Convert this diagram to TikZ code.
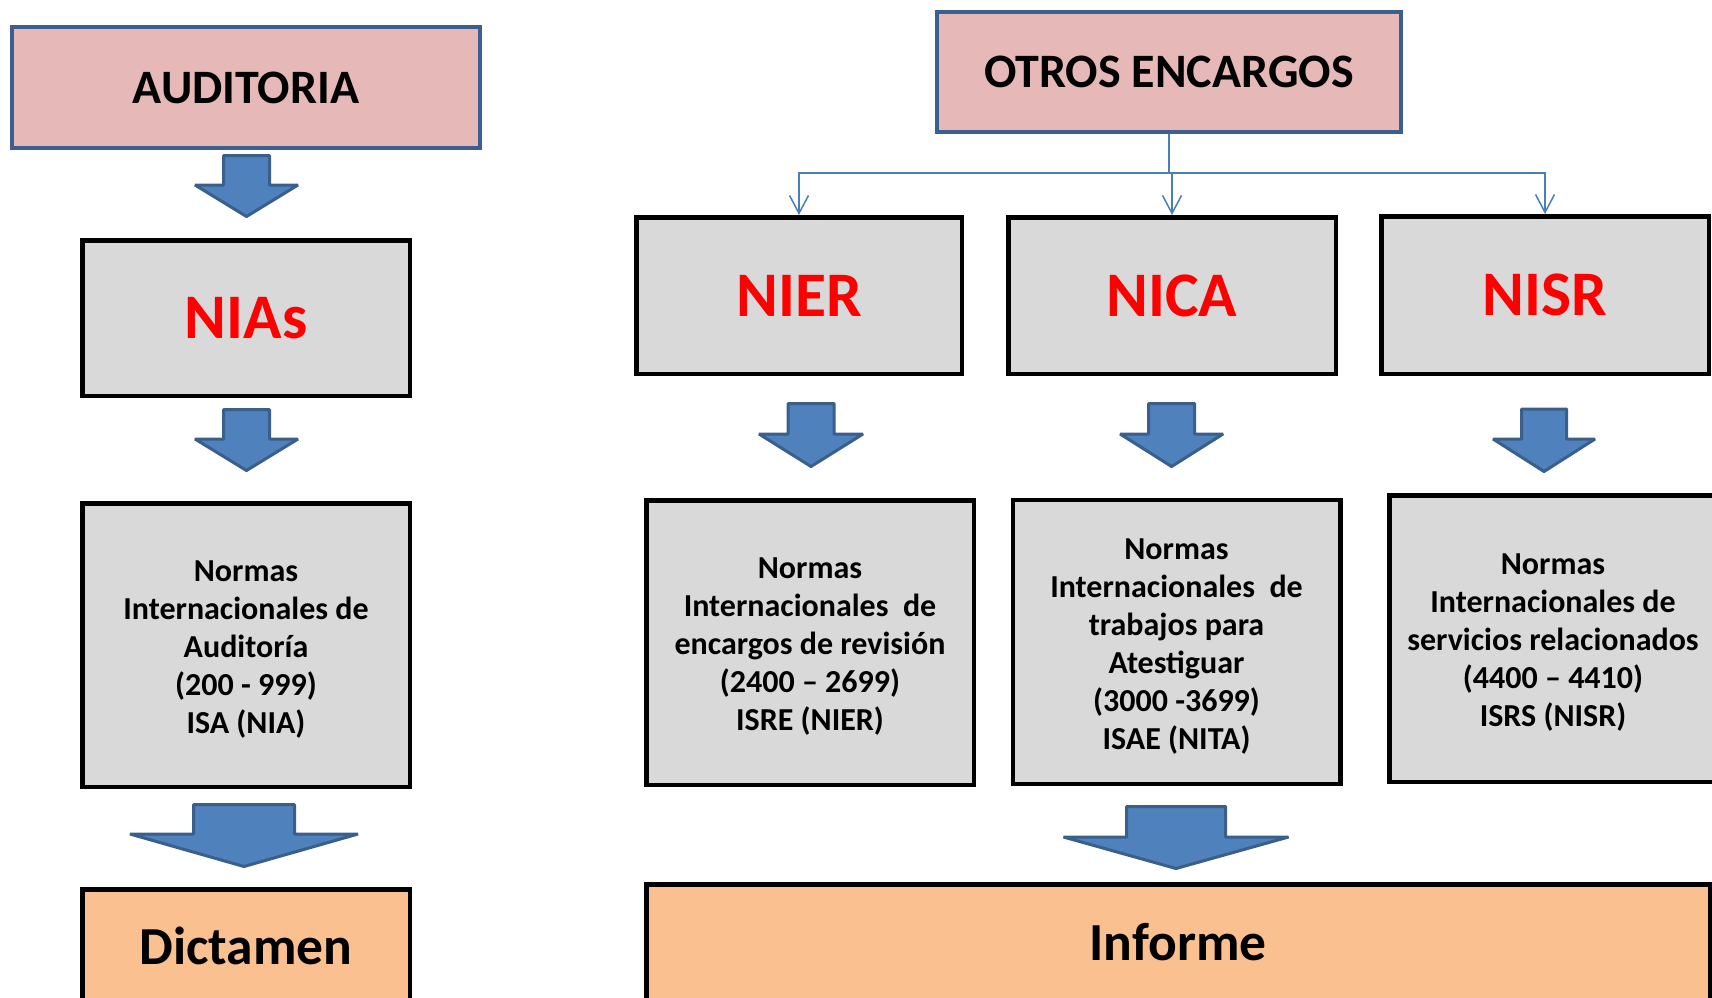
\documentclass[tikz,border=0pt]{standalone}
\usepackage{fontspec}
\setmainfont{Carlito}
\usetikzlibrary{arrows.meta}
\definecolor{pinkfill}{HTML}{E6B9B8}
\definecolor{grayfill}{HTML}{D9D9D9}
\definecolor{orangefill}{HTML}{FAC090}
\definecolor{blueborder}{HTML}{3B6090}
\definecolor{arrowfill}{HTML}{4F81BD}
\definecolor{arrowline}{HTML}{3A5F8B}
\definecolor{connline}{HTML}{4A7EBB}
\definecolor{redtext}{HTML}{FF0000}
\newcommand{\topgap}{\rule{0pt}{29pt}}
\tikzset{
  headbox/.style={draw=blueborder, line width=4pt, fill=pinkfill, inner sep=0pt,
    font=\fontsize{48}{52}\selectfont\bfseries},
  normbox/.style={draw=black, line width=4.5pt, fill=grayfill, inner sep=0pt},
  bigred/.style={normbox, text=redtext, font=\fontsize{63.5}{70}\selectfont\bfseries},
  textbox/.style={normbox, align=center, font=\fontsize{32}{38}\selectfont\bfseries},
  resultbox/.style={draw=black, line width=4.5pt, fill=orangefill, inner sep=0pt,
    font=\fontsize{53.5}{58}\selectfont\bfseries},
  blockarrow/.style={fill=arrowfill, draw=arrowline, line width=3pt, line join=bevel},
  conn/.style={draw=connline, line width=1.5pt, -{Straight Barb[length=18pt,width=19pt]}},
}
% x, top, head y, tip y, half shaft, half head
\newcommand{\blkarrow}[6]{%
  \path[blockarrow] (#1-#5,#2) -- (#1+#5,#2) -- (#1+#5,#3) -- (#1+#6,#3) -- (#1,#4)
    -- (#1-#6,#3) -- (#1-#5,#3) -- cycle;}
\begin{document}
\begin{tikzpicture}[x=1pt,y=-1pt]
\useasboundingbox (0,0) rectangle (1712,997);
\begin{scope}
\clip (0,0) rectangle (1712,997);
% left column
\node[headbox, minimum width=468pt, minimum height=121pt] (aud) at (246,87.5) {AUDITORIA};
\node[bigred, minimum width=327.5pt, minimum height=155.5pt] (nias) at (246,318) {NIAs};
\node[textbox, minimum width=327.5pt, minimum height=283.5pt] (nia) at (246,645)
  {\topgap Normas\\Internacionales de\\Auditoría\\(200 - 999)\\ISA (NIA)};
\node[resultbox, minimum width=327.5pt, minimum height=113.5pt] (dict) at (246,946) {Dictamen};
\blkarrow{246.5}{155.5}{185}{216.5}{23}{51.5}
\blkarrow{246.5}{409.5}{439}{470.5}{23}{51.5}
\blkarrow{244}{804.5}{834}{866.5}{50.5}{114}
% right part
\node[headbox, minimum width=464.5pt, minimum height=120pt] (otros) at (1169,72) {OTROS ENCARGOS};
\node[bigred, minimum width=325.5pt, minimum height=156.5pt] (nier) at (799,295.5) {NIER};
\node[bigred, minimum width=327.5pt, minimum height=156.5pt] (nica) at (1172,295.5) {NICA};
\node[bigred, minimum width=327.5pt, minimum height=157.5pt] (nisr) at (1545,295) {NISR};
\coordinate (hub) at (1169,173);
\draw[draw=connline, line width=1.5pt] (otros.south) -- (hub);
\draw[conn] (hub) -| (nier.north);
\draw[conn] (hub) -| (nica.north);
\draw[conn] (hub) -| (nisr.north);
\blkarrow{811}{403.5}{434}{466.5}{23}{52}
\blkarrow{1171.6}{403.5}{434}{466.5}{23}{51.5}
\blkarrow{1544}{409}{439}{471.5}{22.5}{51}
\node[textbox, minimum width=327.5pt, minimum height=284.5pt] (isre) at (810,642.5)
  {\topgap Normas\\Internacionales\ \ de\\encargos de revisión\\(2400 – 2699)\\ISRE (NIER)};
\node[textbox, minimum width=327.5pt, minimum height=284pt] (isae) at (1176.5,642)
  {\topgap Normas\\Internacionales\ \ de\\trabajos para\\Atestiguar\\(3000 -3699)\\ISAE (NITA)};
\node[textbox, minimum width=327.5pt, minimum height=286.5pt] (isrs) at (1553,638.5)
  {\topgap Normas\\Internacionales de\\servicios relacionados\\(4400 – 4410)\\ISRS (NISR)};
\blkarrow{1176}{806.5}{837}{868.5}{49.5}{112.5}
\node[resultbox, minimum width=1063.5pt, minimum height=115.5pt] (inf) at (1178,942) {Informe};
\end{scope}
\end{tikzpicture}
\end{document}
